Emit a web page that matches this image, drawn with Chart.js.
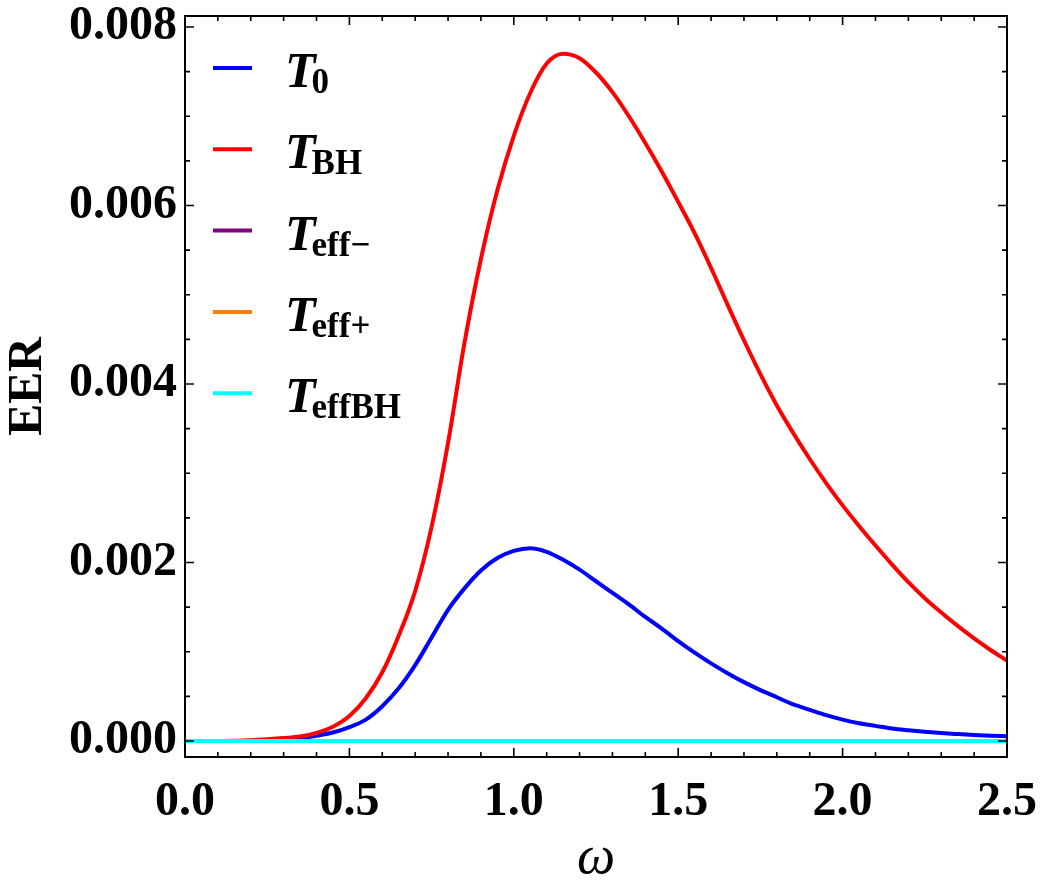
<!DOCTYPE html>
<html>
<head>
<meta charset="utf-8">
<script src="https://cdn.jsdelivr.net/npm/chart.js@4.4.0/dist/chart.umd.min.js"></script>
<style>
  html, body { margin: 0; padding: 0; background: #fff; }
  canvas { display: block; }
</style>
</head>
<body>
<canvas id="myChart" width="1042" height="886"></canvas>
<script>
const omega = [
  0.00, 0.05, 0.10, 0.15, 0.20, 0.25, 0.30, 0.35, 0.40, 0.45,
  0.50, 0.55, 0.60, 0.65, 0.70, 0.75, 0.80, 0.85, 0.90, 0.95,
  1.00, 1.05, 1.10, 1.15, 1.20, 1.25, 1.30, 1.35, 1.40, 1.45,
  1.50, 1.55, 1.60, 1.65, 1.70, 1.75, 1.80, 1.85, 1.90, 1.95,
  2.00, 2.05, 2.10, 2.15, 2.20, 2.25, 2.30, 2.35, 2.40, 2.45, 2.50,
];

const t0 = [
  0, 0, 0, 0, 0.000001, 0.000004, 0.000012, 0.00003, 0.00006, 0.000095,
  0.000155, 0.00024, 0.00039, 0.00059, 0.00085, 0.00116, 0.00147, 0.00171, 0.00191, 0.00205,
  0.00213, 0.00216, 0.00212, 0.00203, 0.00192, 0.00179, 0.00166, 0.00153, 0.00139, 0.00126,
  0.00112, 0.00099, 0.00087, 0.00076, 0.00066, 0.00057, 0.00049, 0.00041, 0.00035, 0.00029,
  0.00024, 0.00020, 0.00017, 0.00014, 0.00012, 0.000103, 0.000089, 0.000078, 0.000068, 0.00006, 0.000053,
];

const tBH = [
  0, 0, 0, 0.000002, 0.00001, 0.00002, 0.000033, 0.00005, 0.00009, 0.00016,
  0.00028, 0.00048, 0.00077, 0.00118, 0.00168, 0.00240, 0.00334, 0.00446, 0.00540, 0.00617,
  0.00678, 0.00726, 0.00759, 0.00770, 0.00765, 0.00749, 0.00727, 0.00700, 0.00670, 0.00638,
  0.00604, 0.00569, 0.00530, 0.00489, 0.00449, 0.00411, 0.00376, 0.00345, 0.00316, 0.00289,
  0.00264, 0.00241, 0.00219, 0.00198, 0.00178, 0.00160, 0.00144, 0.00129, 0.00115, 0.00102, 0.00090,
];

const tEffMinus = [
  0, 0, 0, 0, 0, 0, 0, 0, 0, 0, 0, 0, 0, 0, 0, 0, 0, 0, 0, 0, 0, 0, 0, 0, 0, 0,
  0, 0, 0, 0, 0, 0, 0, 0, 0, 0, 0, 0, 0, 0, 0, 0, 0, 0, 0, 0, 0, 0, 0, 0, 0,
];
const tEffPlus = [
  0, 0, 0, 0, 0, 0, 0, 0, 0, 0, 0, 0, 0, 0, 0, 0, 0, 0, 0, 0, 0, 0, 0, 0, 0, 0,
  0, 0, 0, 0, 0, 0, 0, 0, 0, 0, 0, 0, 0, 0, 0, 0, 0, 0, 0, 0, 0, 0, 0, 0, 0,
];
const tEffBH = [
  0, 0, 0, 0, 0, 0, 0, 0, 0, 0, 0, 0, 0, 0, 0, 0, 0, 0, 0, 0, 0, 0, 0, 0, 0, 0,
  0, 0, 0, 0, 0, 0, 0, 0, 0, 0, 0, 0, 0, 0, 0, 0, 0, 0, 0, 0, 0, 0, 0, 0, 0,
];

const xTicks = [0, 0.5, 1.0, 1.5, 2.0, 2.5];
const yTicks = [0, 0.002, 0.004, 0.006, 0.008];

const legendSubs = ["0", "BH", "eff\u2212", "eff+", "effBH"];

const serif = "'Liberation Serif', 'Times New Roman', serif";

function series(values) {
  return values.map((v, i) => ({ x: omega[i], y: v }));
}

const data = {
  datasets: [
    { label: "T0", data: series(t0), borderColor: "rgb(0, 0, 255)", order: 5 },
    { label: "TBH", data: series(tBH), borderColor: "rgb(255, 0, 0)", order: 4 },
    { label: "Teff-", data: series(tEffMinus), borderColor: "rgb(128, 0, 128)", order: 3 },
    { label: "Teff+", data: series(tEffPlus), borderColor: "rgb(255, 128, 0)", order: 2 },
    { label: "TeffBH", data: series(tEffBH), borderColor: "rgb(0, 255, 255)", order: 1 },
  ],
};

// frame, inward ticks on all four sides, and the subscripted legend
const frameAndLegend = {
  id: "frameAndLegend",
  afterDatasetsDraw(chart) {
    const { ctx, chartArea: a, scales: { x, y } } = chart;
    ctx.save();
    ctx.strokeStyle = "#000";
    ctx.lineWidth = 1.6;
    ctx.beginPath();
    for (let i = 0; i <= 25; i++) {
      const px = x.getPixelForValue(i / 10);
      const len = i % 5 === 0 ? 9 : 5;
      ctx.moveTo(px, a.bottom); ctx.lineTo(px, a.bottom - len);
      ctx.moveTo(px, a.top); ctx.lineTo(px, a.top + len);
    }
    for (let i = 0; i <= 16; i++) {
      const py = y.getPixelForValue(i * 0.0005);
      const len = i % 4 === 0 ? 9 : 5;
      ctx.moveTo(a.left, py); ctx.lineTo(a.left + len, py);
      ctx.moveTo(a.right, py); ctx.lineTo(a.right - len, py);
    }
    ctx.stroke();
    ctx.lineWidth = 2;
    ctx.strokeRect(a.left, a.top, a.right - a.left, a.bottom - a.top);

    // legend
    chart.data.datasets.forEach((ds, i) => {
      const ly = a.top + 52 + i * 81.3;
      ctx.strokeStyle = ds.borderColor;
      ctx.lineWidth = 4;
      ctx.beginPath();
      ctx.moveTo(a.left + 28, ly);
      ctx.lineTo(a.left + 67, ly);
      ctx.stroke();
      ctx.fillStyle = "#000";
      ctx.textBaseline = "alphabetic";
      ctx.textAlign = "left";
      ctx.font = "italic bold 50px " + serif;
      const tx = a.left + 100;
      ctx.fillText("T", tx, ly + 19);
      const tw = ctx.measureText("T").width;
      ctx.font = "bold 35px " + serif;
      ctx.fillText(legendSubs[i], tx + tw - 4, ly + 25);
    });
    ctx.restore();
  },
};

const config = {
  type: "line",
  data: data,
  options: {
    responsive: false,
    animation: false,
    events: [],
    layout: { padding: { left: 0, top: 16, right: 35, bottom: 0 } },
    elements: {
      point: { radius: 0 },
      line: { borderWidth: 4, cubicInterpolationMode: "monotone" },
    },
    plugins: {
      legend: { display: false },
      tooltip: { enabled: false },
    },
    scales: {
      x: {
        type: "linear",
        min: 0,
        max: 2.5,
        grid: { display: false, drawTicks: false },
        border: { display: false },
        afterBuildTicks: (s) => { s.ticks = xTicks.map((v) => ({ value: v })); },
        afterFit: (s) => { s.height = 129; s.paddingLeft = 0; s.paddingRight = 0; },
        ticks: {
          padding: 17,
          color: "#000",
          maxRotation: 0,
          font: { family: serif, size: 48, weight: "bold" },
          callback: (v) => v.toFixed(1),
        },
        title: {
          display: true,
          text: "ω",
          color: "#000",
          padding: { top: 0, bottom: 0 },
          font: { family: serif, size: 54, style: "italic", lineHeight: 1.0 },
        },
      },
      y: {
        type: "linear",
        min: -0.000179,
        max: 0.008123,
        grid: { display: false, drawTicks: false },
        border: { display: false },
        afterBuildTicks: (s) => { s.ticks = yTicks.map((v) => ({ value: v })); },
        afterFit: (s) => { s.width = 185; s.paddingTop = 0; s.paddingBottom = 0; },
        ticks: {
          padding: 8,
          color: "#000",
          font: { family: serif, size: 48, weight: "bold" },
          callback: (v) => v.toFixed(3),
        },
        title: {
          display: true,
          text: "EER",
          color: "#000",
          padding: { top: 0, bottom: 0 },
          font: { family: serif, size: 48, weight: "bold" },
        },
      },
    },
  },
  plugins: [frameAndLegend],
};

let myChart = new Chart(document.getElementById("myChart"), config);
</script>
</body>
</html>
